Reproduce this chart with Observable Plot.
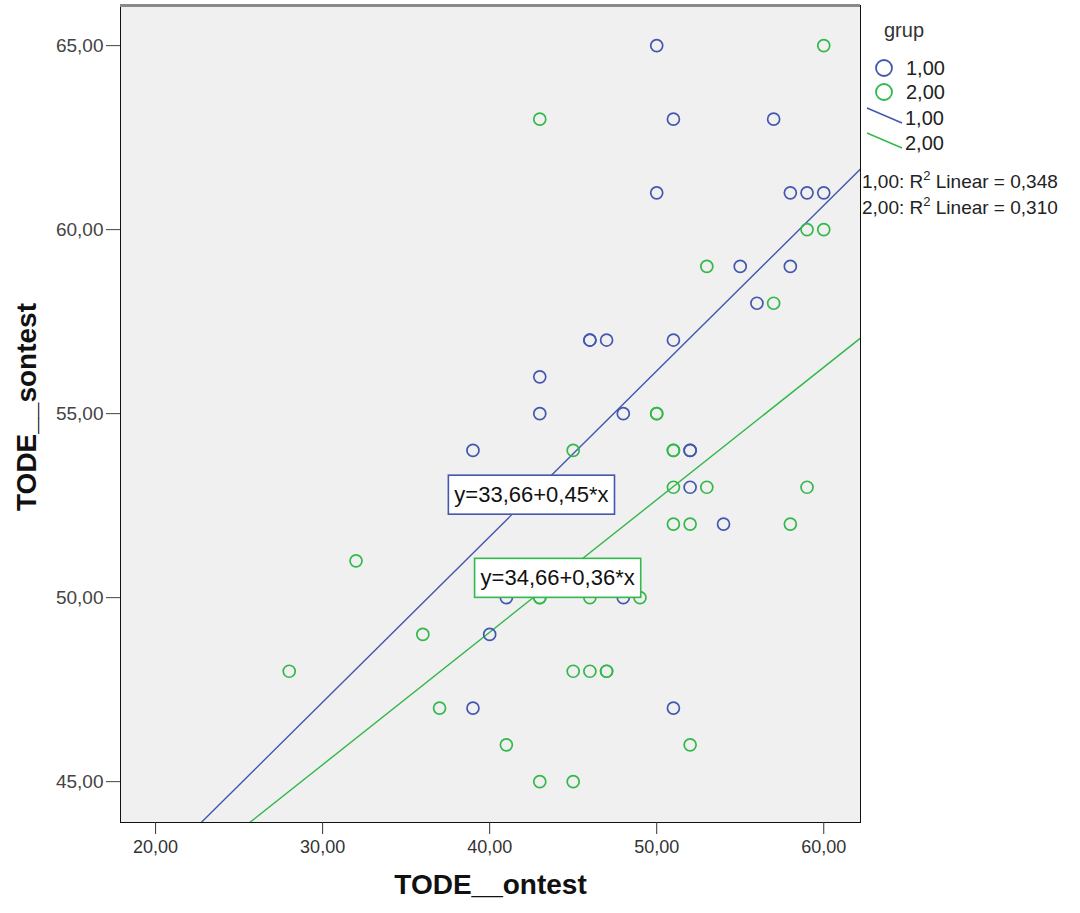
<!DOCTYPE html>
<html><head><meta charset="utf-8">
<script src="https://cdn.jsdelivr.net/npm/d3@7"></script>
<script src="https://cdn.jsdelivr.net/npm/@observablehq/plot@0.6"></script>
<style>body{margin:0;background:#fff;font-family:"Liberation Sans",Arial,sans-serif}</style>
</head><body><div id="chart"></div>
<script>
// ---- data ----
const groups = ["1,00", "2,00"];
const g1X = [50,51,57,50,58,59,60,55,58,56,46,46,47,51,43,43,48,39,52,52,52,54,41,48,40,39,51];
const g1Y = [65,63,63,61,61,61,61,59,59,58,57,57,57,57,56,55,55,54,54,54,53,52,50,50,49,47,47];
const g2X = [60,43,59,60,53,57,50,50,45,51,51,51,53,59,51,52,58,32,43,43,46,49,36,28,45,46,47,47,37,41,52,43,45];
const g2Y = [65,63,60,60,59,58,55,55,54,54,54,53,53,53,52,52,52,51,50,50,50,50,49,48,48,48,48,48,47,46,46,45,45];
const intercepts = [33.66, 34.66];
const slopes = [0.45, 0.36];
const r2Values = ["0,348", "0,310"];
const labelAtX = [42.5, 44.07];
const xTicks = [20, 30, 40, 50, 60];
const yTicks = [45, 50, 55, 60, 65];
const colors = ["#4357AE", "#33B84B"];
const xTitle = "TODE__ontest";
const yTitle = "TODE__sontest";
const legendTitle = "grup";

// ---- build ----
const xDomain = [17.9, 62.2], yDomain = [43.89, 66.09];
const fmt = d => d3.format(".2f")(d).replace(".", ",");
const points = [
  ...g1X.map((x, i) => ({x, y: g1Y[i], g: groups[0]})),
  ...g2X.map((x, i) => ({x, y: g2Y[i], g: groups[1]}))
];
const lines = groups.flatMap((g, i) => xDomain.map(x => ({x, y: intercepts[i] + slopes[i] * x, g})));
const eqLabels = groups.map((g, i) => ({
  x: labelAtX[i], y: intercepts[i] + slopes[i] * labelAtX[i], g,
  text: `y=${fmt(intercepts[i])}+${fmt(slopes[i])}*x`
}));
const font = "Liberation Sans, Arial, sans-serif";

const plot = Plot.plot({
  width: 1080, height: 913,
  marginLeft: 120, marginRight: 220, marginTop: 5, marginBottom: 91,
  x: {domain: xDomain},
  y: {domain: yDomain},
  color: {domain: groups, range: colors},
  style: {fontFamily: font, background: "#fff", overflow: "visible"},
  marks: [
    Plot.frame({fill: "#f0f0f0", stroke: "none"}),
    Plot.line(lines, {x: "x", y: "y", z: "g", stroke: "g", strokeWidth: 1.4, clip: true}),
    Plot.dot(points, {x: "x", y: "y", stroke: "g", r: 6, strokeWidth: 1.7}),
    Plot.text(eqLabels, {x: "x", y: "y", text: "text", fontSize: 22, fill: "#111"}),
    Plot.frame({stroke: "#111"}),
    Plot.ruleY([yDomain[1]], {stroke: "#8a8a8a", strokeWidth: 3}),
    Plot.axisX({ticks: xTicks, tickFormat: fmt, tickSize: 12, tickPadding: 6, fontSize: 18, color: "#333", label: null}),
    Plot.axisY({ticks: yTicks, tickFormat: fmt, tickSize: 14, tickPadding: 3, fontSize: 19, color: "#444", label: null}),
    Plot.text([xTitle], {text: d => d, frameAnchor: "bottom", dy: 71, fontSize: 28, fontWeight: "bold", fill: "#111"}),
    Plot.text([yTitle], {text: d => d, frameAnchor: "left", textAnchor: "middle", dx: -93, dy: -7, rotate: -90, fontSize: 28, fontWeight: "bold", fill: "#111"})
  ]
});
document.getElementById("chart").appendChild(plot);

// equation label boxes
const eqTexts = eqLabels.map(d => d.text);
d3.select(plot).selectAll("text").filter(function() { return eqTexts.includes(this.textContent); }).each(function() {
  const i = eqTexts.indexOf(this.textContent);
  const bb = this.getBBox();
  const rect = document.createElementNS("http://www.w3.org/2000/svg", "rect");
  rect.setAttribute("x", bb.x - 6);
  rect.setAttribute("y", bb.y - 7);
  rect.setAttribute("width", bb.width + 12);
  rect.setAttribute("height", bb.height + 14);
  rect.setAttribute("fill", "#fff");
  rect.setAttribute("stroke", colors[i]);
  rect.setAttribute("stroke-width", 1.6);
  const t = this.getAttribute("transform");
  if (t) rect.setAttribute("transform", t);
  this.parentNode.insertBefore(rect, this);
});

// legend
const svg = d3.select(plot);
const lg = svg.append("g").attr("font-family", font).attr("font-size", 20).attr("fill", "#222").attr("text-anchor", "start");
lg.append("text").attr("x", 884).attr("y", 30).attr("dy", "0.36em").attr("fill", "#333").text(legendTitle);
groups.forEach((g, i) => {
  lg.append("circle").attr("cx", 884).attr("cy", 68 + i * 24).attr("r", 8)
    .attr("fill", "none").attr("stroke", colors[i]).attr("stroke-width", 1.8);
  lg.append("text").attr("x", 906).attr("y", 68 + i * 24).attr("dy", "0.36em").text(g);
  lg.append("line").attr("x1", 867).attr("y1", 108 + i * 25).attr("x2", 902).attr("y2", 123 + i * 25)
    .attr("stroke", colors[i]).attr("stroke-width", 1.5);
  lg.append("text").attr("x", 905).attr("y", 118 + i * 25).attr("dy", "0.36em").text(g);
  const t = lg.append("text").attr("x", 862).attr("y", 181 + i * 26).attr("dy", "0.36em").attr("font-size", 19);
  t.append("tspan").text(`${g}: R`);
  t.append("tspan").attr("font-size", 13).attr("dy", "-0.6em").text("2");
  t.append("tspan").attr("dy", "0.42em").attr("font-size", 19).text(` Linear = ${r2Values[i]}`);
});
</script></body></html>
